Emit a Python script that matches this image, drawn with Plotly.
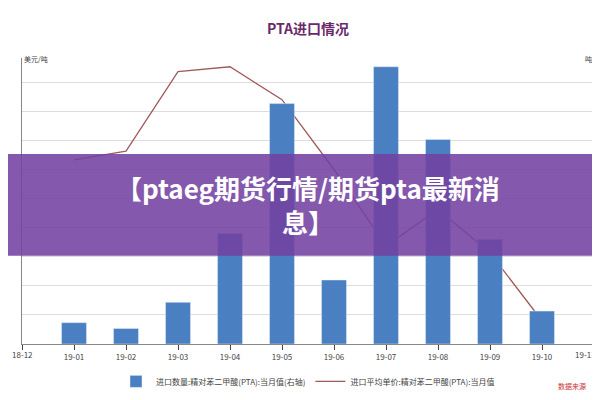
import plotly.graph_objects as go

months = ['18-12', '19-01', '19-02', '19-03', '19-04', '19-05',
          '19-06', '19-07', '19-08', '19-09', '19-10', '19-11']
bar_months = [1, 2, 3, 4, 5, 6, 7, 8, 9, 10]
import_qty = [22, 16, 43, 114, 248, 66, 286, 211, 108, 34]
line_months = [1, 2, 3, 4, 5, 6, 7, 8, 9, 10]
avg_price = [190, 199, 281, 286, 252, 180, 101, 139, 94, 24]

fig = go.Figure()
fig.add_trace(go.Bar(x=bar_months, y=import_qty, yaxis='y2', width=0.48,
                     marker_color='#4a7fc1',
                     name='进口数量:精对苯二甲酸(PTA):当月值(右轴)'))
fig.add_trace(go.Scatter(x=line_months, y=avg_price, mode='lines',
                         line=dict(color='#a05a5a', width=1.3),
                         name='进口平均单价:精对苯二甲酸(PTA):当月值'))

font = "Noto Sans CJK SC"
fig.update_layout(
    width=600, height=400, margin=dict(l=14, r=14, t=50, b=55),
    paper_bgcolor='white', plot_bgcolor='white',
    font=dict(family=font, size=8, color='#444'),
    title=dict(text='<b>PTA进口情况</b>', x=0.5, y=0.96,
               font=dict(size=14, color='#6a2a6a')),
    showlegend=True,
    legend=dict(orientation='h', x=0.5, xanchor='center', y=-0.08,
                font=dict(size=8)),
    xaxis=dict(tickmode='array', tickvals=list(range(12)),
               ticktext=[''] + months[1:-1] + [''],
               range=[0, 11], showgrid=False, ticks='outside',
               showline=True, linecolor='#888', automargin=False),
    yaxis=dict(range=[0, 295], showticklabels=False, dtick=30,
               gridcolor='#ddd', showline=True, linecolor='#888',
               automargin=False),
    yaxis2=dict(range=[0, 295], overlaying='y', side='right',
                showticklabels=False, showgrid=False, showline=True,
                linecolor='#888', automargin=False),
)
for i in (0, len(months) - 1):
    fig.add_annotation(text=months[i], x=i, xref='x', yref='paper', y=0,
                       yanchor='top', yshift=-3, showarrow=False,
                       xanchor='left' if i == 0 else 'right',
                       xshift=-12 if i == 0 else 4,
                       font=dict(size=8, color='#444'))
fig.add_annotation(text='美元/吨', xref='paper', yref='paper', x=0.0, y=1.02,
                   xanchor='left', showarrow=False, font=dict(size=7))
fig.add_annotation(text='吨', xref='paper', yref='paper', x=1.0, y=1.02,
                   xanchor='right', showarrow=False, font=dict(size=7))
fig.add_annotation(text='数据来源', xref='paper', yref='paper', x=0.99, y=-0.17,
                   xanchor='right', showarrow=False,
                   font=dict(size=7, color='#c33'))
fig.add_shape(type='rect', xref='paper', yref='paper', x0=-0.05, x1=1.05,
              y0=(344 - 253) / 295, y1=(344 - 148) / 295,
              fillcolor='rgba(115,65,160,0.88)', line_width=0, layer='above')
fig.add_annotation(text='<b>【ptaeg期货行情/期货pta最新消<br>息】</b>',
                   xref='paper', yref='paper', x=0.5, y=(344 - 200) / 295,
                   showarrow=False, align='center',
                   font=dict(size=26, color='white', family=font))
fig.write_html("out.html")
